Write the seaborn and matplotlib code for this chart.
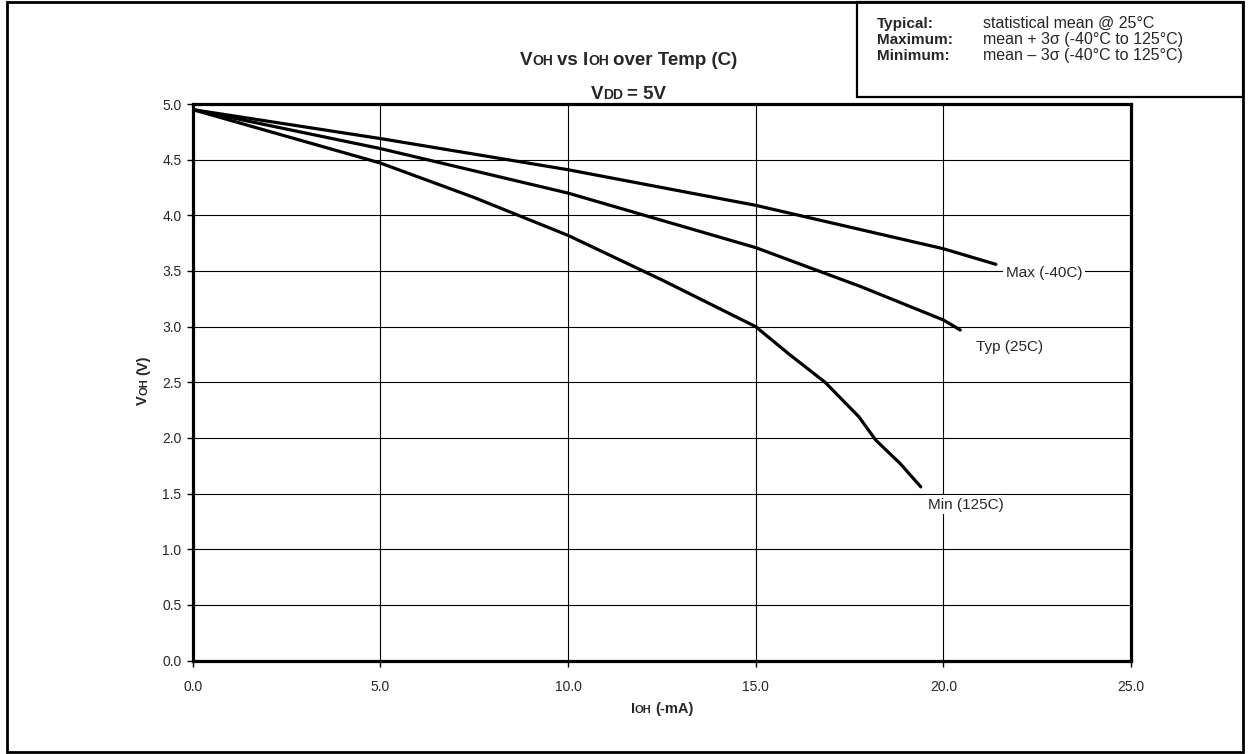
import numpy as np
import pandas as pd
import matplotlib
matplotlib.use("Agg")
import matplotlib.pyplot as plt
import seaborn as sns
from matplotlib.patches import Rectangle

# values (IOH in -mA, VOH in V)
max_ioh = [0.0, 5.0, 10.0, 15.0, 20.0, 21.4]
max_voh = [4.95, 4.69, 4.41, 4.09, 3.70, 3.56]

typ_ioh = [0.0, 5.0, 10.0, 15.0, 17.8, 20.0, 20.45]
typ_voh = [4.95, 4.60, 4.20, 3.71, 3.36, 3.06, 2.97]

min_ioh = [0.0, 5.0, 7.5, 10.0, 12.5, 15.0, 15.9, 16.85, 17.75, 18.2, 18.85, 19.4]
min_voh = [4.95, 4.47, 4.16, 3.82, 3.42, 3.00, 2.75, 2.50, 2.19, 1.98, 1.77, 1.56]

series_names = ["Max (-40C)", "Typ (25C)", "Min (125C)"]
x_ticks = [0.0, 5.0, 10.0, 15.0, 20.0, 25.0]
y_ticks = [0.0, 0.5, 1.0, 1.5, 2.0, 2.5, 3.0, 3.5, 4.0, 4.5, 5.0]

legend_keys = ["Typical:", "Maximum:", "Minimum:"]
legend_vals = ["statistical mean @ 25°C",
               "mean + 3σ (-40°C to 125°C)",
               "mean – 3σ (-40°C to 125°C)"]

df = pd.concat([
    pd.DataFrame({"ioh": max_ioh, "voh": max_voh, "series": series_names[0]}),
    pd.DataFrame({"ioh": typ_ioh, "voh": typ_voh, "series": series_names[1]}),
    pd.DataFrame({"ioh": min_ioh, "voh": min_voh, "series": series_names[2]}),
])

sns.set_style("white")
plt.rcParams["font.family"] = ["Liberation Sans", "DejaVu Sans"]

fig = plt.figure(figsize=(12.49, 7.54), dpi=100)
ax = fig.add_axes([0.1543, 0.124, 0.7512, 0.738])

sns.lineplot(data=df, x="ioh", y="voh", hue="series", palette=["black"] * 3,
             sort=False, estimator=None, linewidth=2.3, legend=False, ax=ax)

ax.set_xlim(0, 25)
ax.set_ylim(0, 5)
ax.set_xticks(x_ticks)
ax.set_yticks(y_ticks)
ax.set_xticklabels([f"{v:.1f}" for v in x_ticks])
ax.set_yticklabels([f"{v:.1f}" for v in y_ticks])
ax.tick_params(axis="both", direction="out", length=4, width=1, color="black",
               labelsize=10, left=True, bottom=True)
ax.tick_params(axis="x", pad=10)
ax.tick_params(axis="y", pad=4)
ax.set_xlabel("")
ax.set_ylabel("")
ax.set_axisbelow(True)
ax.grid(True, color="black", linewidth=0.8)
for sp in ax.spines.values():
    sp.set_visible(True)
    sp.set_color("black")
    sp.set_linewidth(2.3)

# curve labels with white boxes over the grid
label_pos = [(21.67, 3.48), (20.87, 2.82), (19.59, 1.40)]
for name, (lx, ly) in zip(series_names, label_pos):
    ax.text(lx, ly, name, fontsize=11, ha="left", va="center", zorder=5,
            bbox=dict(facecolor="white", edgecolor="none", pad=2))


def bold_line(x, y, parts, rotation=0):
    # parts: (text, size, gap in em after it) -> one bold line, centred on x or y
    texts = [fig.text(0, 0, s, fontsize=fs, fontweight="bold", rotation=rotation,
                      rotation_mode="anchor", ha="left", va="baseline")
             for s, fs, _ in parts]
    r = fig.canvas.get_renderer()
    steps = []
    for t, (_, fs, gap) in zip(texts, parts):
        bb = t.get_window_extent(r)
        w = bb.width if rotation == 0 else bb.height
        steps.append(w + gap * fs * fig.dpi / 72)
    pos = -sum(steps) / 2
    for t, st in zip(texts, steps):
        if rotation == 0:
            t.set_position((x + pos / fig.bbox.width, y))
        else:
            t.set_position((x, y + pos / fig.bbox.height))
        pos += st


bold_line(0.503, 0.9138, [("V", 13.5, 0), ("OH", 10, 0.278), ("vs I", 13.5, 0),
                          ("OH", 10, 0.278), ("over Temp (C)", 13.5, 0)])
bold_line(0.503, 0.8687, [("V", 13.5, 0), ("DD", 10, 0.278), ("= 5V", 13.5, 0)])
bold_line(0.530, 0.0544, [("I", 10.5, 0), ("OH", 8, 0.278), ("(-mA)", 10.5, 0)])
bold_line(0.1177, 0.496, [("V", 10.5, 0), ("OH", 8, 0.278), ("(V)", 10.5, 0)],
          rotation=90)

# outer frame and the note box in the top right corner
fig.patches.append(Rectangle((7 / 1249, 2 / 754), 1236 / 1249, 750 / 754,
                             transform=fig.transFigure, fill=False,
                             edgecolor="black", linewidth=2))
fig.patches.append(Rectangle((857 / 1249, 1 - 97 / 754), 386 / 1249, 95 / 754,
                             transform=fig.transFigure, fill=False,
                             edgecolor="black", linewidth=1.6))
for i, (k, v) in enumerate(zip(legend_keys, legend_vals)):
    yy = 1 - (28 + 16 * i) / 754
    fig.text(0.702, yy, k, fontsize=11, fontweight="bold", va="baseline")
    fig.text(0.787, yy, v, fontsize=11.5, va="baseline")

fig.savefig("out.png", dpi=100)
